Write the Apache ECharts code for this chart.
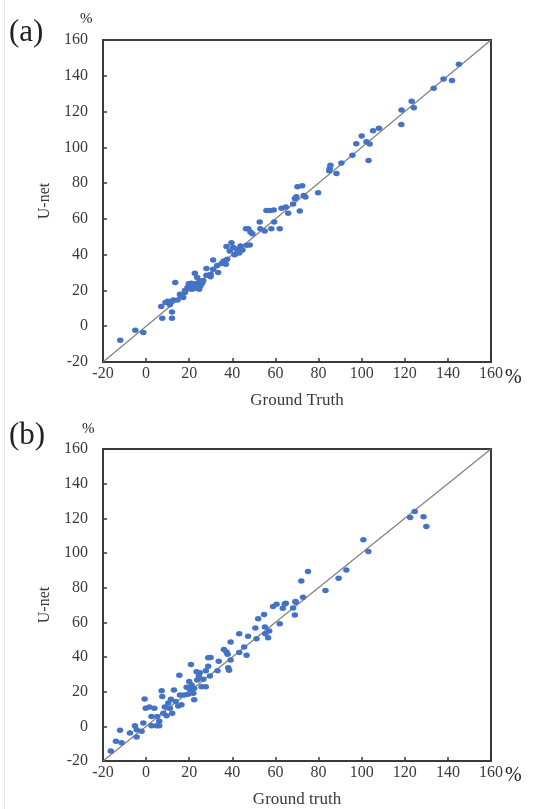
<!DOCTYPE html>
<html>
<head>
<meta charset="utf-8">
<script src="https://cdn.jsdelivr.net/npm/echarts@6/dist/echarts.min.js"></script>
<style>
  html, body { margin: 0; padding: 0; background: #fff; }
  #chart { width: 542px; height: 809px; }
</style>
</head>
<body>
<div id="chart"></div>
<script>
// Shared tick values for both panels (percent)
const tickValues = [-20, 0, 20, 40, 60, 80, 100, 120, 140, 160];

// Reference 1:1 line
const identityLine = [[-20, -20], [160, 160]];

// Panel (a): ground truth vs. U-net prediction
const groundTruthA = [
  -12, -5, -1.3, 7.5, 12, 12, 7, 9, 11, 12.6, 13.5, 14.6, 15.7, 17.2, 18, 19.2, 19.8, 21.1,
  22.6, 23.4, 24.6, 22.6, 23.7, 25, 25.2, 28, 28, 29.9, 31.1, 31.1, 33.4, 33, 35, 37, 37.6,
  37.3, 39.6, 38.8, 40.4, 41.2, 42, 43.2, 43.8, 44.7, 46.6, 48.1, 46.3, 47.4, 48.4, 49.3,
  52.7, 53, 55, 55.8, 57.4, 59.2, 58.1, 59.4, 62, 62.8, 64.8, 65.9, 68.2, 69, 69.7, 71.3,
  73.1, 79.8, 73.9, 72.4, 70.2, 84.9, 85.2, 85.5, 88.3, 90.6, 95.7, 97.5, 100, 103.2, 102.2,
  103.7, 105.3, 108, 118.4, 118.5, 123.2, 124.2, 133.4, 138, 141.9, 145.1,
  20, 21, 22, 24, 26, 16, 18, 10, 11, 26.5, 30, 36, 41, 44
];
const unetA = [
  -7.8, -2.2, -3.5, 4.5, 4.5, 8, 11, 13.2, 12, 14.7, 24.4, 14.7, 17.9, 16, 18.8, 21.6, 23.8, 20.6,
  22.5, 24, 20.6, 29.6, 27.2, 25.3, 22.5, 28.5, 32.2, 27.7, 37, 31.8, 30, 34, 35, 34.6, 37.4,
  44.5, 46.7, 42, 44, 40.2, 43, 41, 44.8, 42.6, 45.2, 45.4, 54.5, 54.5, 52.7, 51.7,
  58.2, 54.5, 53.2, 64.7, 64.7, 64.9, 54.5, 58.2, 54.5, 65.9, 66.6, 63.1, 68.3, 71.4, 72.4, 64.4,
  73.1, 74.6, 72.3, 78.5, 77.9, 86.9, 88.2, 90, 85.4, 91.2, 95.6, 102, 106.3, 92.6, 103.1,
  101.8, 109.3, 110.7, 112.8, 120.8, 125.7, 122.1, 133, 138.2, 137.4, 146.4,
  22, 24, 21, 23, 24, 17, 20, 14, 13, 25.5, 29, 36.5, 40, 43
];

// Panel (b): ground truth vs. U-net prediction
const groundTruthB = [
  -16.4, -14, -12.1, -11.4, -7.5, -5.2, -4.4, -4.4, -2.1, -1.3, -0.7, -0.2, 1.5, 3.8, 2.5, 2.5,
  4.9, 6.1, 6.1, 5.2, 7.2, 7.5, 8, 8.7, 9.5, 10.3, 11, 11.5, 12.1, 12.9, 13.7, 14.9, 15.7, 15.4,
  16.4, 17.7, 18.8, 19.5, 20, 20.8, 20.3, 21.1, 21.9, 22.3, 22.3, 23.4, 23.7, 24.5, 24.9, 25.7,
  26.5, 27.7, 27.7, 28.8, 28.8, 29.9, 29.6, 33.1, 33.7, 36.1, 37.3, 37.8, 38.1, 38.5, 39.2, 39.2,
  43.2, 43.2, 45.5, 46.6, 47.3, 50.7, 51.2, 52, 54.7, 55.1, 55.3, 56.6, 57.1, 62, 64.3, 68.2,
  69, 69.4, 60.5, 58.9, 63.4, 64.8, 69.3, 72.8, 72, 75.1, 83.2, 89.3, 92.9, 100.8, 103.1,
  122.5, 124.6, 128.7, 130
];
const unetB = [
  -14.3, -8.6, -2.3, -9.5, -3.8, 0.4, -1.9, -6.1, -2.9, 1.9, 15.8, 10.5, 11.1, 10.5, 5.7, 0.4,
  0.4, 2.9, 0.4, 5.7, 20.6, 17.2, 7.6, 11.1, 6.1, 13.4, 10.5, 15.6, 7.6, 21, 14.3, 11.8, 18.1, 29.4,
  12.4, 18.1, 22.5, 18.5, 25.8, 35.7, 21.4, 23.9, 19.1, 15.3, 22, 31.5, 26.7, 29, 30.9, 22.9,
  27.1, 32.1, 22.9, 34.7, 39.5, 39.7, 29, 32.1, 37.6, 44.3, 42.9, 41.6, 33.8, 32.4, 48.7, 38.2,
  53.4, 42.6, 45.8, 41, 51.9, 56.7, 50.6, 62, 64.5, 57.3, 53.4, 51.1, 55, 59.2, 70.6, 68.3,
  64.3, 71.6, 70.4, 69.1, 68.1, 71, 72, 74.5, 83.9, 89.3, 78.3, 85.4, 90.2, 107.6, 100.8,
  120.5, 124, 120.9, 115.3
];

const pairs = (xs, ys) => xs.map((x, i) => [x, ys[i]]);

const SERIF = 'Liberation Serif';
const INK = '#3a3a3a';
const DOT = '#4472C4';

function xAxisFor(gridIndex, name) {
  return {
    type: 'value', gridIndex,
    min: tickValues[0], max: tickValues[tickValues.length - 1], interval: 20,
    name, nameLocation: 'middle', nameGap: 30,
    nameTextStyle: { fontFamily: SERIF, fontSize: 17, color: INK },
    axisLine: { show: true, onZero: false, lineStyle: { color: INK, width: 2 } },
    axisTick: { show: true, inside: true, length: 4, lineStyle: { color: INK, width: 1.5 } },
    axisLabel: { fontFamily: SERIF, fontSize: 16, color: INK, margin: 4 },
    splitLine: { show: false }
  };
}
function yAxisFor(gridIndex) {
  return {
    type: 'value', gridIndex,
    min: tickValues[0], max: tickValues[tickValues.length - 1], interval: 20,
    name: 'U-net', nameLocation: 'middle', nameGap: 48, nameRotate: 90,
    nameTextStyle: { fontFamily: SERIF, fontSize: 16, color: INK },
    axisLine: { show: true, onZero: false, lineStyle: { color: INK, width: 2 } },
    axisTick: { show: true, inside: true, length: 4, lineStyle: { color: INK, width: 1.5 } },
    axisLabel: { fontFamily: SERIF, fontSize: 16, color: INK, margin: 15 },
    splitLine: { show: false }
  };
}
function scatterFor(i, data) {
  return {
    type: 'scatter', xAxisIndex: i, yAxisIndex: i, data,
    symbol: 'circle', symbolSize: [6.5, 5.5],
    itemStyle: { color: DOT, opacity: 1 }, z: 3, silent: true
  };
}
function diagonalFor(i) {
  return {
    type: 'line', xAxisIndex: i, yAxisIndex: i, data: identityLine,
    symbol: 'none', lineStyle: { color: '#7f7f7f', width: 1.2 }, z: 2, silent: true
  };
}
function label(text, left, top, size) {
  return { type: 'text', left, top,
    style: { text, font: size + 'px "' + SERIF + '"', fill: '#222' } };
}

const chart = echarts.init(document.getElementById('chart'), null, { renderer: 'canvas' });
chart.setOption({
  backgroundColor: '#fff',
  animation: false,
  grid: [
    { left: 103, top: 40, width: 388, height: 322, show: true, borderColor: INK, borderWidth: 2, backgroundColor: 'transparent' },
    { left: 103, top: 449, width: 388, height: 313, show: true, borderColor: INK, borderWidth: 2, backgroundColor: 'transparent' }
  ],
  xAxis: [xAxisFor(0, 'Ground Truth'), xAxisFor(1, 'Ground truth')],
  yAxis: [yAxisFor(0), yAxisFor(1)],
  series: [
    diagonalFor(0), scatterFor(0, pairs(groundTruthA, unetA)),
    diagonalFor(1), scatterFor(1, pairs(groundTruthB, unetB))
  ],
  graphic: [
    // thin page edge on the left
    { type: 'line', shape: { x1: 4.5, y1: 0, x2: 4.5, y2: 809 }, style: { stroke: '#e4e4e4', lineWidth: 1 } },
    label('(a)', 9, 17, 31),
    label('%', 80, 12, 15),
    label('%', 505, 368, 20),
    label('(b)', 9, 420, 31),
    label('%', 82, 422, 15),
    label('%', 505, 766, 20)
  ]
});
</script>
</body>
</html>
